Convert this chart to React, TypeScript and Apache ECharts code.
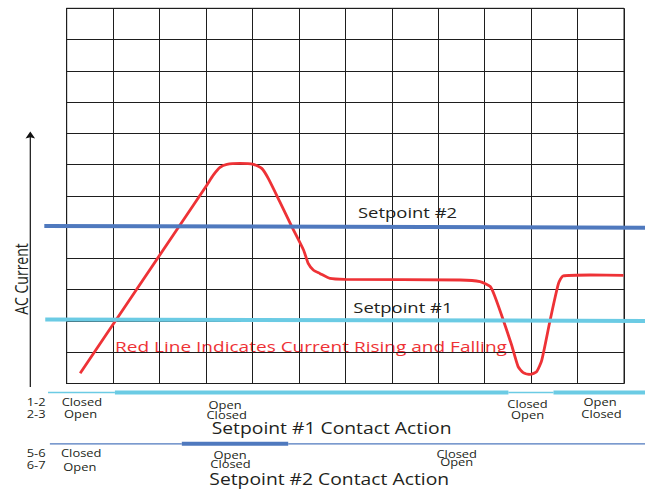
import React, { useEffect, useRef } from "react";
import * as echarts from "echarts";

// Red current trace (x: grid columns, y: grid rows)
const xCurrent = [0.29, 2.44, 3.02, 3.16, 3.3, 3.45, 3.73, 4.02, 4.2, 4.34, 4.59, 4.85, 5.1, 5.2, 5.31, 5.45, 5.67, 5.99, 8.47, 8.9, 9.12, 9.22, 9.4, 9.58, 9.72, 9.83, 9.98, 10.12, 10.23, 10.41, 10.59, 10.69, 11.27, 11.99];
const yCurrent = [0.33, 5.07, 6.35, 6.67, 6.91, 7.01, 7.04, 7.01, 6.88, 6.56, 5.81, 5.01, 4.27, 3.84, 3.63, 3.52, 3.36, 3.33, 3.31, 3.26, 3.1, 2.78, 2.03, 1.23, 0.54, 0.35, 0.29, 0.38, 0.75, 2.03, 3.2, 3.44, 3.47, 3.46];

// Setpoint lines: [xStart, xEnd], [yStart, yEnd]
const setpoint1X = [-0.46, 12.45];
const setpoint1Y = [2.05, 2.0];
const setpoint2X = [-0.48, 12.45];
const setpoint2Y = [5.04, 4.98];

// Contact action rows: edges along x and energized state per segment
const sp1Edges = [-0.4, 1.04, 9.51, 10.48, 12.45];
const sp1Energized = [false, true, false, true];
const sp1RowY = -0.29;
const sp2Edges = [-0.36, 2.48, 4.77, 12.45];
const sp2Energized = [false, true, false];
const sp2RowY = -1.93;

const COL = 12;
const ROW = 12;
const EXT_MIN = -0.48;
const EXT_MAX = 12.45;

const RED = "#EE3236";
const BLUE = "#4F79BE";
const CYAN = "#6BCBE4";
const INK = "#231F20";
const GRIDC = "#1e1e1e";
const FONT = '"Open Sans", "Noto Sans", sans-serif';
const STRETCH = 1.23;

function txt(text: string, x: number, y: number, size: number, align: string, fill = INK, sx = STRETCH) {
  return {
    type: "text",
    x,
    y,
    scaleX: sx,
    silent: true,
    style: { text, fontSize: size, fontFamily: FONT, fill, align, verticalAlign: "middle" },
  };
}

const hiddenAxis = (min: number, max: number, gridIndex: number) => ({
  type: "value",
  gridIndex,
  min,
  max,
  show: false,
  axisLabel: { show: false },
  axisTick: { show: false },
  axisLine: { show: false },
  splitLine: { show: false },
});

const gridAxis = (max: number) => ({
  type: "value",
  gridIndex: 0,
  min: 0,
  max,
  interval: 1,
  axisLabel: { show: false },
  axisTick: { show: false },
  axisLine: { show: true, lineStyle: { color: GRIDC, width: 1 } },
  splitLine: { show: true, lineStyle: { color: GRIDC, width: 1 } },
});

export default function App() {
  const ref = useRef<HTMLDivElement>(null);
  useEffect(() => {
    if (!ref.current) return;
    const chart = echarts.init(ref.current, undefined, { renderer: "svg" });

    const lineSeries = (xs: number[], ys: number[], color: string, width: number) => ({
      type: "line",
      xAxisIndex: 1,
      yAxisIndex: 1,
      silent: true,
      clip: false,
      showSymbol: false,
      z: 3,
      lineStyle: { color, width },
      data: xs.map((x, i) => [x, ys[i]]),
    });

    const contactSeries = (edges: number[], states: boolean[], y: number, color: string) =>
      states.map((on, i) => lineSeries([edges[i], edges[i + 1]], [y, y], color, on ? 4 : 1.4));

    const option: any = {
      animation: false,
      grid: [
        {
          left: 66.7,
          right: 25,
          top: 8.3,
          bottom: 105.5,
          show: true,
          borderColor: GRIDC,
          borderWidth: 1,
          backgroundColor: "transparent",
        },
        { left: 44.3, right: 4, top: 8.3, bottom: 105.5, show: false },
      ],
      xAxis: [gridAxis(COL), hiddenAxis(EXT_MIN, EXT_MAX, 1)],
      yAxis: [gridAxis(ROW), hiddenAxis(0, ROW, 1)],
      series: [
        {
          type: "line",
          name: "AC Current",
          silent: true,
          smooth: 0.2,
          showSymbol: false,
          z: 2,
          lineStyle: { color: RED, width: 2.8 },
          data: xCurrent.map((x, i) => [x, yCurrent[i]]),
        },
        lineSeries(setpoint2X, setpoint2Y, BLUE, 4),
        lineSeries(setpoint1X, setpoint1Y, CYAN, 4),
        ...contactSeries(sp1Edges, sp1Energized, sp1RowY, CYAN),
        ...contactSeries(sp2Edges, sp2Energized, sp2RowY, BLUE),
      ],
      graphic: [
        { type: "line", silent: true, shape: { x1: 30.3, y1: 387, x2: 30.3, y2: 136 }, style: { stroke: "#111", lineWidth: 1.2 } },
        { type: "polygon", silent: true, shape: { points: [[30.3, 131.5], [25.5, 138.6], [30.3, 137.2], [35.1, 138.6]] }, style: { fill: "#111" } },
        {
          type: "text",
          x: 21,
          y: 279,
          rotation: Math.PI / 2,
          scaleY: STRETCH,
          silent: true,
          style: { text: "AC Current", fontSize: 14, fontFamily: FONT, fill: INK, align: "center", verticalAlign: "middle" },
        },
        txt("Setpoint #2", 358, 212.5, 15, "left"),
        txt("Setpoint #1", 353.3, 307, 15, "left"),
        txt("Red Line Indicates Current Rising and Falling", 115, 346.7, 15, "left", RED, 1.27),

        txt("1-2", 26.7, 401.5, 10.5, "left"),
        txt("2-3", 26.7, 413.3, 10.5, "left"),
        txt("Closed", 61.7, 401.5, 10.5, "left"),
        txt("Open", 64, 413.5, 10.5, "left"),
        txt("Open", 225, 404.3, 10.5, "center"),
        txt("Closed", 226.7, 415, 10.5, "center"),
        txt("Closed", 527.5, 403.3, 10.5, "center"),
        txt("Open", 527.5, 414.3, 10.5, "center"),
        txt("Open", 600, 401.7, 10.5, "center"),
        txt("Closed", 601.5, 414, 10.5, "center"),
        txt("Setpoint #1 Contact Action", 211.7, 428.3, 15.5, "left", INK, 1.245),

        txt("5-6", 26.7, 452.7, 10.5, "left"),
        txt("6-7", 26.7, 465, 10.5, "left"),
        txt("Closed", 61, 453, 10.5, "left"),
        txt("Open", 63.3, 466.5, 10.5, "left"),
        txt("Open", 230, 455, 10.5, "center"),
        txt("Closed", 230.5, 463.3, 10.5, "center"),
        txt("Closed", 456.7, 453.3, 10.5, "center"),
        txt("Open", 456.7, 461.7, 10.5, "center"),
        txt("Setpoint #2 Contact Action", 209.3, 479.2, 15.5, "left", INK, 1.245),
      ],
    };

    chart.setOption(option);
    return () => chart.dispose();
  }, []);

  return (
    <div
      ref={ref}
      style={{ position: "absolute", left: 0, top: 0, width: 649, height: 489, background: "#fff" }}
    />
  );
}
